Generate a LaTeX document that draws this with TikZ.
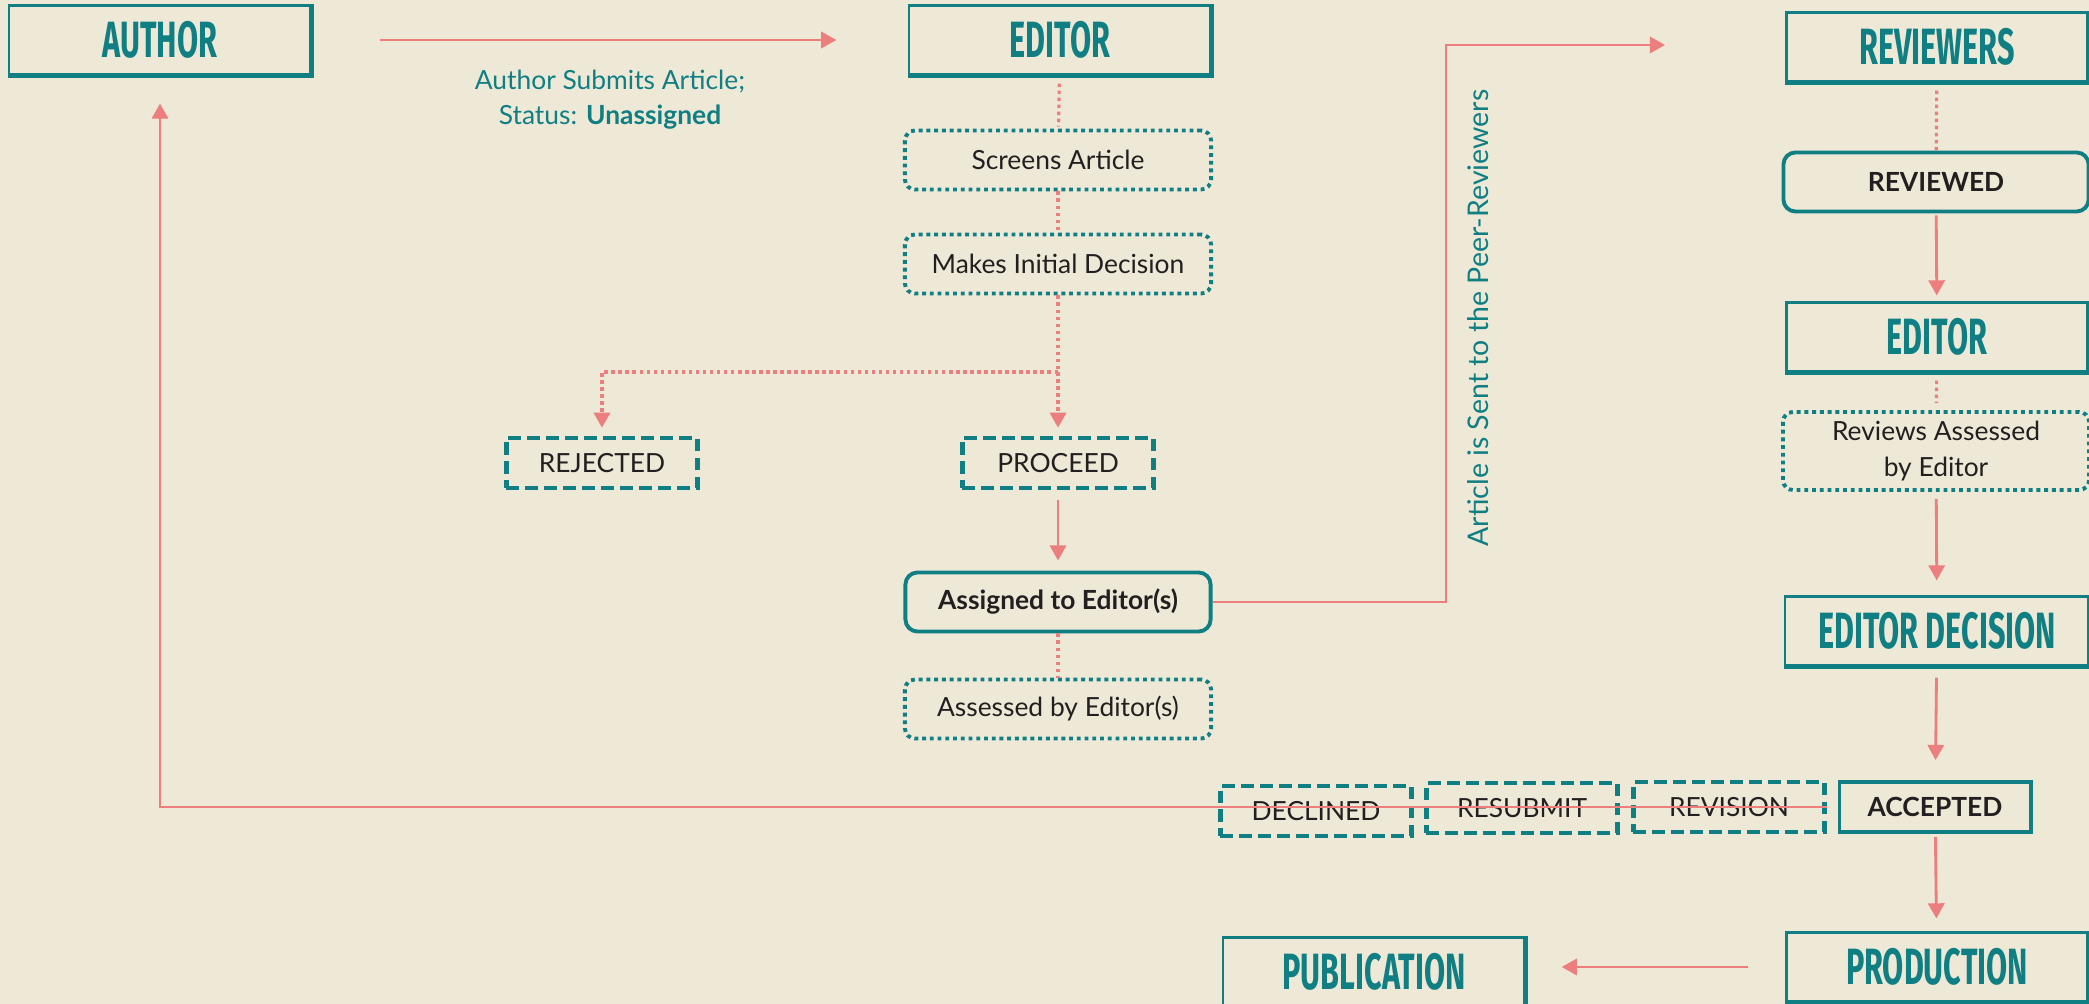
\documentclass[tikz,border=0pt]{standalone}
\usepackage{fontspec}
\setmainfont{Lato}
\newfontfamily\headfont[FakeStretch=0.6]{Fira Sans}
\usetikzlibrary{arrows.meta}
\definecolor{tealc}{HTML}{0F7F84}
\definecolor{pinkc}{HTML}{EC7E7E}
\definecolor{inkc}{HTML}{231F20}
\definecolor{paper}{HTML}{EEE8D6}

\begin{document}
\begin{tikzpicture}[x=0.01cm,y=-0.01cm,
  head/.style={draw=tealc,line width=0.6pt,minimum width=3.01cm,minimum height=0.69cm,inner sep=0pt,
    text=tealc,font=\headfont\bfseries\fontsize{14.5}{14.5}\selectfont},
  task/.style={draw=tealc,line width=1.1pt,dash pattern=on 1.1pt off 1.1pt,rounded corners=0.1cm,
    minimum width=3.06cm,minimum height=0.59cm,inner sep=0pt,text=inkc,font=\fontsize{7.5}{10}\selectfont},
  state/.style={draw=tealc,line width=1.3pt,dash pattern=on 3.6pt off 1.8pt,
    minimum width=1.91cm,minimum height=0.5cm,inner sep=0pt,text=inkc,font=\fontsize{7.5}{10}\selectfont},
  stage/.style={draw=tealc,line width=1.1pt,rounded corners=0.12cm,
    minimum width=3.05cm,minimum height=0.59cm,inner sep=0pt,text=inkc,font=\bfseries\fontsize{7.5}{10}\selectfont},
  note/.style={text=tealc,inner sep=0pt,font=\fontsize{7.5}{10}\selectfont},
  link/.style={pinkc,line width=0.8pt,-{Triangle[length=4.3pt,width=4.6pt]}},
  chain/.style={pinkc,line width=0.9pt,dash pattern=on 1pt off 1pt}]
  \useasboundingbox (0,0) rectangle (2089,1004);
  \fill[paper] (0,0) rectangle (2089,1004);

  \node[head] (author) at (160,40) {AUTHOR};
  \node[head] (editor) at (1060,40) {EDITOR};
  \node[head] (reviewers) at (1937,47) {REVIEWERS};
  \node[head] (editorb) at (1937,337) {EDITOR};
  \node[head,minimum width=3.04cm] (decision) at (1937,631) {EDITOR DECISION};
  \node[head] (production) at (1937,967) {PRODUCTION};
  \node[head] (publication) at (1374,972) {PUBLICATION};
  \foreach \n in {author,editor,reviewers,editorb,decision,production,publication}
    \draw[tealc,line width=1.6pt] (\n.north east) -- (\n.south east) -- (\n.south west);

  \node[note,align=center] (submit) at (610,100) {Author Submits Article;\\Status: \textbf{Unassigned}};
  \node[task] (screens) at (1058,160) {Screens Article};
  \node[task] (initial) at (1058,264) {Makes Initial Decision};
  \node[state] (rejected) at (602,463) {REJECTED};
  \node[state] (proceed) at (1058,463) {PROCEED};
  \node[stage] (assigned) at (1058,602) {Assigned to Editor(s)};
  \node[task] (assessed) at (1058,709) {Assessed by Editor(s)};
  \node[note,rotate=90,font=\fontsize{8.1}{10}\selectfont] (sent) at (1478,318) {Article is Sent to the Peer-Reviewers};

  \node[stage] (reviewed) at (1936,182) {REVIEWED};
  \node[task,minimum height=0.78cm,align=center] (revassess) at (1936,451) {Reviews Assessed\\by Editor};
  \node[state] (declined) at (1316,811) {DECLINED};
  \node[state] (resubmit) at (1522,808) {RESUBMIT};
  \node[state] (revision) at (1729,807) {REVISION};
  \node[draw=tealc,line width=1.1pt,minimum width=1.91cm,minimum height=0.5cm,inner sep=0pt,
    text=inkc,font=\bfseries\fontsize{7.5}{10}\selectfont] (accepted) at (1935,807) {ACCEPTED};

  \coordinate (fork) at (1058,372);
  \coordinate (bend) at (1446,45);
  \coordinate (revin) at (1665,45);

  \draw[link,shorten <=0.68cm,shorten >=0.72cm] (author.east) -- (editor.west);
  \draw[chain,shorten <=0.08cm,shorten >=0.02cm] (editor) -- (screens);
  \draw[chain] (screens) -- (initial);
  \draw[chain] (initial) -- (fork);
  \draw[chain,-{Triangle[length=4.3pt,width=4.6pt]},shorten >=0.08cm] (fork) -- (proceed);
  \draw[chain,-{Triangle[length=4.3pt,width=4.6pt]},shorten >=0.08cm] (fork) -| (rejected);
  \draw[link,shorten <=0.1cm,shorten >=0.1cm] (proceed) -- (assigned);
  \draw[chain] (assigned) -- (assessed);
  \draw[link] (assigned.east) -| (bend) -- (revin);

  \draw[chain,shorten <=0.08cm] (reviewers) -- (reviewed);
  \draw[link,shorten <=0.02cm,shorten >=0.06cm] (reviewed) -- (editorb);
  \draw[chain,shorten <=0.08cm,shorten >=0.07cm] (editorb) -- (revassess);
  \draw[link,shorten <=0.07cm,shorten >=0.15cm] (revassess) -- (decision);
  \draw[link,shorten <=0.11cm,shorten >=0.2cm] (decision) -- (accepted);
  \draw[link,shorten <=0.03cm,shorten >=0.13cm] (accepted) -- (production);
  \draw[link,shorten <=0.37cm,shorten >=0.36cm] (production.west) -- (production.west -| publication.east);
  \draw[link,shorten >=0.28cm] (revision.east) -| (author.south);
\end{tikzpicture}
\end{document}
